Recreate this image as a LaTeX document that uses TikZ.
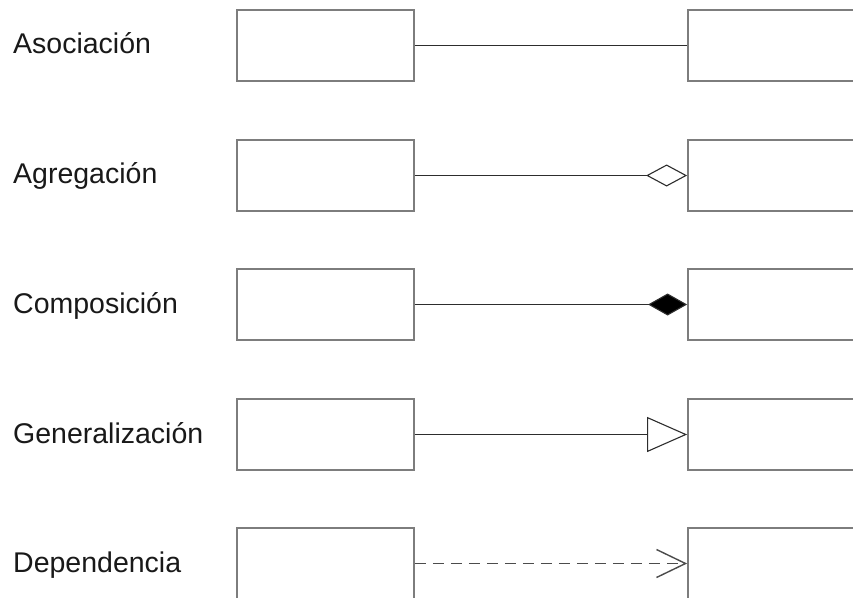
\documentclass[tikz,border=0pt]{standalone}
\usepackage{fontspec}
\setmainfont{Liberation Sans}
\usetikzlibrary{arrows.meta}
\definecolor{boxgray}{RGB}{125,125,125}
\definecolor{linedark}{RGB}{45,45,45}
\begin{document}
\begin{tikzpicture}[x=1pt,y=-1pt,
  umlbox/.style={draw=boxgray,line width=1.8pt,fill=white,inner sep=0pt,minimum height=71pt},
  leftbox/.style={umlbox,minimum width=177pt},
  rightbox/.style={umlbox,minimum width=220pt},
  lbl/.style={anchor=base west,inner sep=0pt,font=\fontsize{28.5}{34}\selectfont,text=black!90},
  conn/.style={draw=linedark,line width=1.1pt}
]
\useasboundingbox (0,0) rectangle (853,597);
\clip (0,0) rectangle (853,597);
\fill[white] (0,0) rectangle (853,597);
% rows
\foreach \n/\y in {1/45.5,2/175.5,3/304.5,4/434.5,5/563.5}{
  \node[leftbox] (l\n) at (325.5,\y) {};
  \node[rightbox] (r\n) at (798,\y) {};
}
\node[lbl] (t1) at (13,53.5) {Asociación};
\node[lbl] (t2) at (13,183.5) {Agregación};
\node[lbl] (t3) at (13,313) {Composición};
\node[lbl] (t4) at (13,443) {Generalización};
\node[lbl] (t5) at (13,572.5) {Dependencia};
% connectors
\draw[conn] (l1.east) -- (r1.west);
\draw[conn,-{Diamond[open,length=41pt,width=22pt,line width=1.1pt]}] (l2.east) -- (r2.west);
\draw[conn,-{Diamond[length=39pt,width=22pt,fill=black]}] (l3.east) -- (r3.west);
\draw[conn,-{Triangle[open,length=40pt,width=35pt,line width=1.1pt]}] (l4.east) -- (r4.west);
\draw[conn,line width=1.3pt,draw=linedark!85,dash pattern=on 11pt off 7pt,-{Straight Barb[length=29pt,width=28pt,line width=1.4pt]}] (l5.east) -- (r5.west);
\end{tikzpicture}
\end{document}
